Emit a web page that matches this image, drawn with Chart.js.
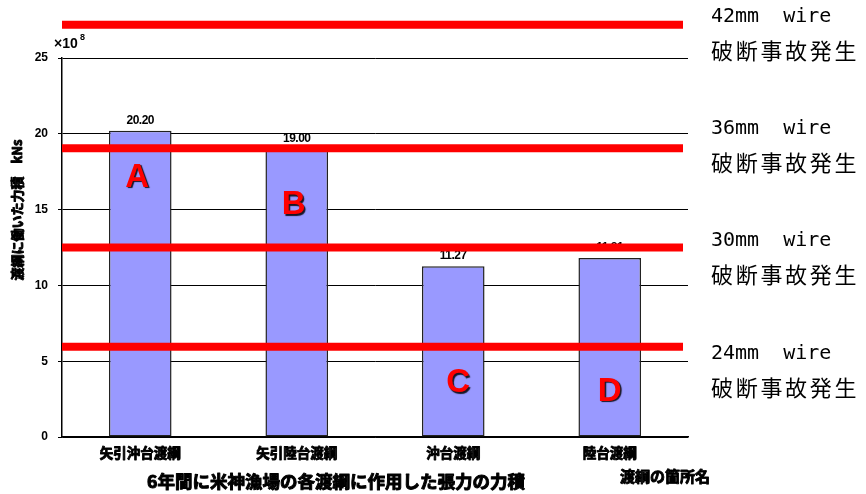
<!DOCTYPE html>
<html>
<head>
<meta charset="utf-8">
<script src="https://cdn.jsdelivr.net/npm/chart.js@4"></script>
<style>
  body { margin: 0; background: #fff; }
  canvas { display: block; }
</style>
</head>
<body>
<canvas id="grafico" width="866" height="494"></canvas>
<script>
// 渡綱ごとの力積 (×10^8 kNs)
const categorias = ['矢引沖台渡綱', '矢引陸台渡綱', '沖台渡綱', '陸台渡綱'];
const valores = [20.20, 19.00, 11.27, 11.81];
const letras = ['A', 'B', 'C', 'D'];

// ワイヤ径ごとの破断ライン
const wires = ['42mm', '36mm', '30mm', '24mm'];
const nivelesRotura = [27.2, 19.05, 12.5, 5.95];

const ticksY = [0, 5, 10, 15, 20, 25];

const fuenteLat = '"Liberation Sans", Arial, sans-serif';
const fuenteJp = '"Noto Sans CJK JP", sans-serif';

// texto japonés grueso (relleno + trazo)
function textoGrueso(ctx, texto, x, y, grosor) {
  ctx.lineWidth = grosor;
  ctx.strokeStyle = '#000';
  ctx.lineJoin = 'round';
  ctx.strokeText(texto, x, y);
  ctx.fillText(texto, x, y);
}

const dibujoExtra = {
  id: 'dibujoExtra',
  afterDatasetsDraw(chart) {
    const ctx = chart.ctx;
    const y = chart.scales.y;
    const x = chart.scales.x;
    const area = chart.chartArea;
    const meta = chart.getDatasetMeta(0);

    ctx.save();

    // valores encima de las barras
    ctx.fillStyle = '#000';
    ctx.font = 'bold 12px ' + fuenteLat;
    ctx.letterSpacing = '-0.5px';
    ctx.textAlign = 'center';
    ctx.textBaseline = 'middle';
    meta.data.forEach((bar, i) => {
      ctx.fillText(valores[i].toFixed(2), bar.x, bar.y - 10);
    });
    ctx.letterSpacing = '0px';

    // letras A-D dentro de las barras
    const posLetras = [[-3, 17.1], [-3, 15.3], [5, 3.55], [0, 3.0]];
    ctx.font = 'bold 33px ' + fuenteLat;
    ctx.shadowColor = 'rgba(0,0,0,0.85)';
    ctx.shadowOffsetX = 1.5;
    ctx.shadowOffsetY = 1.5;
    ctx.shadowBlur = 1;
    ctx.fillStyle = '#ff0000';
    meta.data.forEach((bar, i) => {
      ctx.fillText(letras[i], bar.x + posLetras[i][0], y.getPixelForValue(posLetras[i][1]));
    });
    ctx.shadowColor = 'transparent';

    // líneas rojas de rotura
    ctx.strokeStyle = '#ff0000';
    ctx.lineWidth = 8;
    nivelesRotura.forEach(v => {
      const py = y.getPixelForValue(v);
      ctx.beginPath();
      ctx.moveTo(area.left, py);
      ctx.lineTo(area.right - 5, py);
      ctx.stroke();
    });

    // textos a la derecha
    const filas = [17, 129, 241, 354];
    ctx.fillStyle = '#000';
    ctx.textAlign = 'left';
    filas.forEach((fy, i) => {
      ctx.font = '20px "DejaVu Sans Mono", monospace';
      ctx.letterSpacing = '0px';
      ctx.fillText(wires[i] + '  wire', 711, fy);
      ctx.font = '22px ' + fuenteJp;
      ctx.letterSpacing = '2.7px';
      ctx.fillText('破断事故発生', 711, fy + 34);
    });
    ctx.letterSpacing = '0px';

    // ×10^8
    ctx.font = 'bold 14px ' + fuenteLat;
    ctx.textBaseline = 'alphabetic';
    ctx.fillText('×10', 54, 48);
    ctx.font = 'bold 9px ' + fuenteLat;
    ctx.fillText('8', 80, 40);

    // etiquetas del eje X
    ctx.textAlign = 'center';
    ctx.textBaseline = 'middle';
    ctx.font = 'bold 13.5px ' + fuenteJp;
    categorias.forEach((c, i) => {
      textoGrueso(ctx, c, x.getPixelForTick(i), 453, 0.9);
    });

    // título del eje Y
    ctx.save();
    ctx.translate(17, 210);
    ctx.rotate(-Math.PI / 2);
    ctx.font = 'bold 13px ' + fuenteJp;
    textoGrueso(ctx, '渡綱に働いた力積　kNs', 0, 0, 0.9);
    ctx.restore();

    // títulos de abajo
    ctx.font = 'bold 17.5px ' + fuenteJp;
    textoGrueso(ctx, '6年間に米神漁場の各渡綱に作用した張力の力積', 336, 481, 1);
    ctx.font = 'bold 15px ' + fuenteJp;
    textoGrueso(ctx, '渡綱の箇所名', 665, 476, 0.9);

    ctx.restore();
  }
};

const ctx = document.getElementById('grafico').getContext('2d');
const grafico = new Chart(ctx, {
  type: 'bar',
  data: {
    labels: categorias,
    datasets: [{
      data: valores,
      backgroundColor: '#9999ff',
      borderColor: '#222222',
      borderWidth: 1.5,
      borderSkipped: false,
      categoryPercentage: 1,
      barPercentage: 0.4
    }]
  },
  options: {
    responsive: false,
    animation: false,
    layout: { padding: { top: 58, right: 178, left: 0, bottom: 0 } },
    plugins: {
      legend: { display: false },
      tooltip: { enabled: false }
    },
    scales: {
      x: {
        afterFit: s => { s.height = 57; },
        grid: { display: false },
        border: { display: true, color: '#000', width: 1.5 },
        ticks: { display: false }
      },
      y: {
        min: 0,
        max: 25,
        afterFit: s => { s.width = 62; },
        afterBuildTicks: s => { s.ticks = ticksY.map(v => ({ value: v })); },
        grid: { color: '#000', lineWidth: 1, tickLength: 4 },
        border: { display: true, color: '#000', width: 1.5 },
        ticks: {
          color: '#000',
          padding: 10,
          font: { family: fuenteLat, size: 12, weight: 'bold' }
        }
      }
    }
  },
  plugins: [dibujoExtra]
});
</script>
</body>
</html>
